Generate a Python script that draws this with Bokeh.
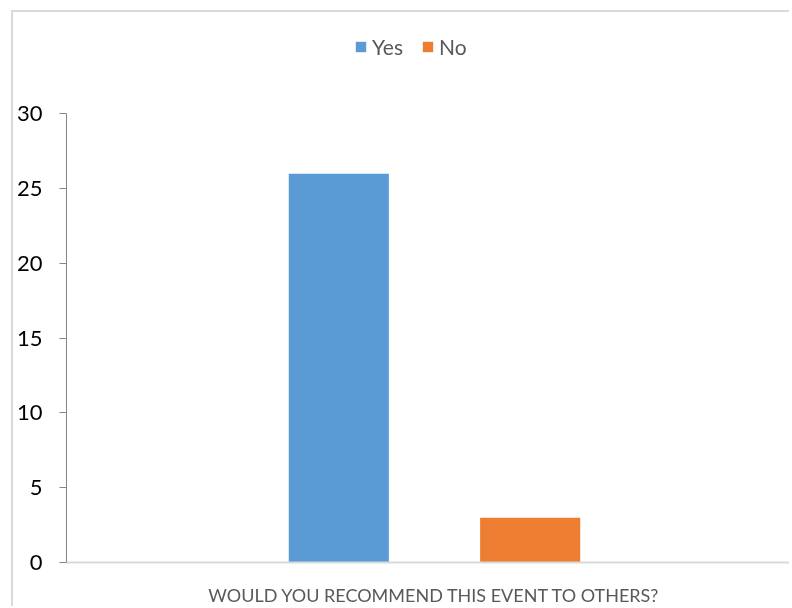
from bokeh.plotting import figure
from bokeh.models import Range1d, FixedTicker, Legend, LegendItem, ColumnDataSource
from bokeh.embed import file_html
from bokeh.resources import INLINE

# data
category = "WOULD YOU RECOMMEND THIS EVENT TO OTHERS?"
series = ["Yes", "No"]
values = [26, 3]
colors = ["#5b9bd5", "#ed7d31"]
y_ticks = [0, 5, 10, 15, 20, 25, 30]

W, H = 778, 596
top_border = 8
bottom_border = 37
frame_h = H - top_border - bottom_border
px_per_unit = 15.2
y_top = frame_h / px_per_unit

p = figure(width=W, height=H, output_backend="svg", toolbar_location=None,
           x_range=Range1d(0, 725 / 736), y_range=Range1d(0, y_top),
           min_border_left=53, min_border_right=0, min_border_top=top_border,
           min_border_bottom=bottom_border)
p.margin = 0
p.styles = {"position": "fixed", "left": "11px", "top": "10px",
            "border-left": "2px solid #d9d9d9", "border-top": "2px solid #d9d9d9"}
p.outline_line_color = None
p.grid.visible = False
p.background_fill_color = "white"
p.border_fill_color = "white"

offsets = [-0.13, 0.13]
bar_w = 0.136
items = []
for name, val, col, off in zip(series, values, colors, offsets):
    src = ColumnDataSource(dict(x=[0.5 + off], top=[val]))
    r = p.vbar(x="x", top="top", bottom=0, width=bar_w, source=src,
               fill_color=col, line_color=None)
    items.append(LegendItem(label=name, renderers=[r]))

legend = Legend(items=items, orientation="horizontal", location=(288, 503),
                border_line_color=None, background_fill_alpha=0,
                padding=0, margin=0, spacing=18, label_standoff=5,
                glyph_width=13, glyph_height=13,
                label_text_font="Lato", label_text_font_size="21px",
                label_text_color="#595959", label_height=18)
p.add_layout(legend, "center")

# y axis
ya = p.yaxis[0]
ya.ticker = FixedTicker(ticks=y_ticks)
ya.bounds = (0, 30)
ya.minor_tick_line_color = None
ya.axis_line_color = "#868686"
ya.major_tick_line_color = "#868686"
ya.major_tick_out = 7
ya.major_tick_in = 0
ya.major_label_standoff = 17
ya.major_label_text_font = "Lato"
ya.major_label_text_font_size = "22px"
ya.major_label_text_color = "#000000"

# x axis
xa = p.xaxis[0]
xa.ticker = FixedTicker(ticks=[0.5])
xa.major_label_overrides = {0.5: category}
xa.minor_tick_line_color = None
xa.major_tick_line_color = None
xa.axis_line_color = "#d9d9d9"
xa.axis_line_width = 2
xa.major_label_standoff = 15
xa.major_label_text_font = "Lato"
xa.major_label_text_font_size = "18px"
xa.major_label_text_color = "#595959"

open("out.html", "w").write(file_html(p, INLINE))
